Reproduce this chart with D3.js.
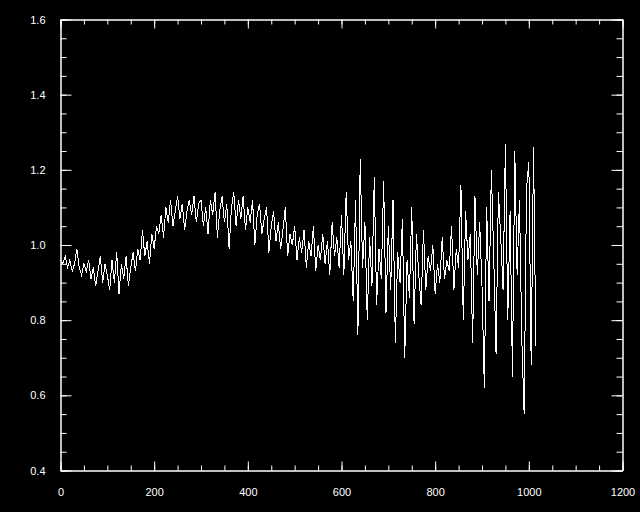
<!DOCTYPE html>
<html>
<head>
<meta charset="utf-8">
<script src="https://cdn.jsdelivr.net/npm/d3@7"></script>
<style>
  html, body { margin: 0; padding: 0; background: #000; }
  svg { display: block; }
  text { font-family: "Liberation Sans", "DejaVu Sans", sans-serif; font-size: 11px; fill: #fff; }
</style>
</head>
<body>
<div id="chart"></div>
<script>
// sample spacing along x (one value every 5 units, starting at 0)
var xStep = 5;

// y values, in blocks of 100 x-units
var seg0 = [0.96,0.95,0.97,0.94,0.96,0.93,0.95,0.99,0.94,0.92,0.95,0.93,0.96,0.91,0.94,0.89,0.93,0.97,0.90,0.95];
var seg1 = [0.92,0.88,0.96,0.90,0.98,0.87,0.95,0.91,0.97,0.89,0.94,0.98,0.93,0.99,0.96,1.04,0.97,1.01,0.95,1.03];
var seg2 = [0.99,1.05,1.03,1.08,1.02,1.10,1.06,1.12,1.05,1.09,1.13,1.07,1.11,1.04,1.09,1.12,1.08,1.13,1.06,1.11];
var seg3 = [1.12,1.05,1.10,1.03,1.12,1.08,1.14,1.02,1.09,1.13,1.06,1.11,0.99,1.10,1.14,1.05,1.12,1.07,1.13,1.04];
var seg4 = [1.10,1.06,1.12,1.00,1.08,1.11,1.03,1.07,1.10,0.98,1.05,1.09,1.01,1.06,0.99,1.04,1.10,0.97,1.03,1.00];
var seg5 = [1.05,0.96,1.02,0.98,1.04,0.94,1.01,0.97,1.05,0.93,1.00,0.96,1.03,0.95,1.01,0.92,1.06,0.97,1.02,0.94];
var seg6 = [1.08,0.92,1.14,0.96,1.01,0.85,1.12,0.76,1.23,0.94,1.06,0.80,1.02,0.89,1.18,0.84,0.99,0.91,1.17,0.82];
var seg7 = [1.05,0.88,1.12,0.74,0.98,0.90,1.07,0.70,0.96,0.86,1.10,0.79,1.03,0.92,0.84,1.04,0.88,0.97,0.93,1.00];
var seg8 = [0.87,0.95,0.90,1.02,0.91,0.96,0.93,1.05,0.88,0.99,0.94,1.16,0.80,1.09,0.96,1.03,0.74,1.13,0.92,1.06];
var seg9 = [0.89,0.62,1.10,0.85,1.20,0.97,0.71,1.14,1.02,0.88,1.27,0.80,1.09,0.65,1.25,0.92,1.12,0.75,0.55,1.15];
var seg10 = [1.22,0.68,1.26,0.73];

var xTicks = [0, 200, 400, 600, 800, 1000, 1200];
var yTicks = [0.4, 0.6, 0.8, 1.0, 1.2, 1.4, 1.6];

var values = [].concat(seg0, seg1, seg2, seg3, seg4, seg5, seg6, seg7, seg8, seg9, seg10);
var data = values.map(function(v, i){ return {x: i * xStep, y: v}; });

var width = 640, height = 512;
var plotL = 60.5, plotR = 622.5, plotT = 19.5, plotB = 470.5;

var svg = d3.select("#chart").append("svg")
    .attr("width", width)
    .attr("height", height)
    .style("background", "#000");

var x = d3.scaleLinear().domain([0, 1200]).range([plotL, plotR]);
var y = d3.scaleLinear().domain([0.4, 1.6]).range([plotB, plotT]);

function minor(step, lo, hi){
    return d3.range(lo, hi + step / 2, step).map(function(d){ return +d.toFixed(4); });
}

function styleAxis(g){
    g.selectAll("path.domain").attr("stroke", "#fff").attr("stroke-width", 1);
    g.selectAll("line").attr("stroke", "#fff").attr("stroke-width", 1);
    g.selectAll("text").attr("fill", "#fff").style("font-size", "11px")
        .style("font-family", "'Liberation Sans', 'DejaVu Sans', sans-serif");
}

// minor ticks first
svg.append("g").attr("transform", "translate(0," + plotB + ")")
    .call(d3.axisBottom(x).tickValues(minor(50, 0, 1200)).tickSize(-5).tickFormat("").tickSizeOuter(0))
    .call(styleAxis);
svg.append("g").attr("transform", "translate(0," + plotT + ")")
    .call(d3.axisTop(x).tickValues(minor(50, 0, 1200)).tickSize(-5).tickFormat("").tickSizeOuter(0))
    .call(styleAxis);
svg.append("g").attr("transform", "translate(" + plotL + ",0)")
    .call(d3.axisLeft(y).tickValues(minor(0.05, 0.4, 1.6)).tickSize(-6).tickFormat("").tickSizeOuter(0))
    .call(styleAxis);
svg.append("g").attr("transform", "translate(" + plotR + ",0)")
    .call(d3.axisRight(y).tickValues(minor(0.05, 0.4, 1.6)).tickSize(-6).tickFormat("").tickSizeOuter(0))
    .call(styleAxis);

// major ticks with labels
svg.append("g").attr("transform", "translate(0," + plotB + ")")
    .call(d3.axisBottom(x).tickValues(xTicks).tickSize(-9).tickPadding(18).tickFormat(d3.format("d")).tickSizeOuter(0))
    .call(styleAxis);
svg.append("g").attr("transform", "translate(0," + plotT + ")")
    .call(d3.axisTop(x).tickValues(xTicks).tickSize(-9).tickFormat("").tickSizeOuter(0))
    .call(styleAxis);
svg.append("g").attr("transform", "translate(" + plotL + ",0)")
    .call(d3.axisLeft(y).tickValues(yTicks).tickSize(-11).tickPadding(15).tickFormat(d3.format(".1f")).tickSizeOuter(0))
    .call(styleAxis);
svg.append("g").attr("transform", "translate(" + plotR + ",0)")
    .call(d3.axisRight(y).tickValues(yTicks).tickSize(-11).tickFormat("").tickSizeOuter(0))
    .call(styleAxis);

var line = d3.line()
    .x(function(d){ return x(d.x); })
    .y(function(d){ return y(d.y); });

// aliased line, like the old plotting device output
svg.append("path")
    .datum(data)
    .attr("fill", "none")
    .attr("stroke", "#fff")
    .attr("stroke-width", 1)
    .attr("shape-rendering", "crispEdges")
    .attr("d", line);
</script>
</body>
</html>
